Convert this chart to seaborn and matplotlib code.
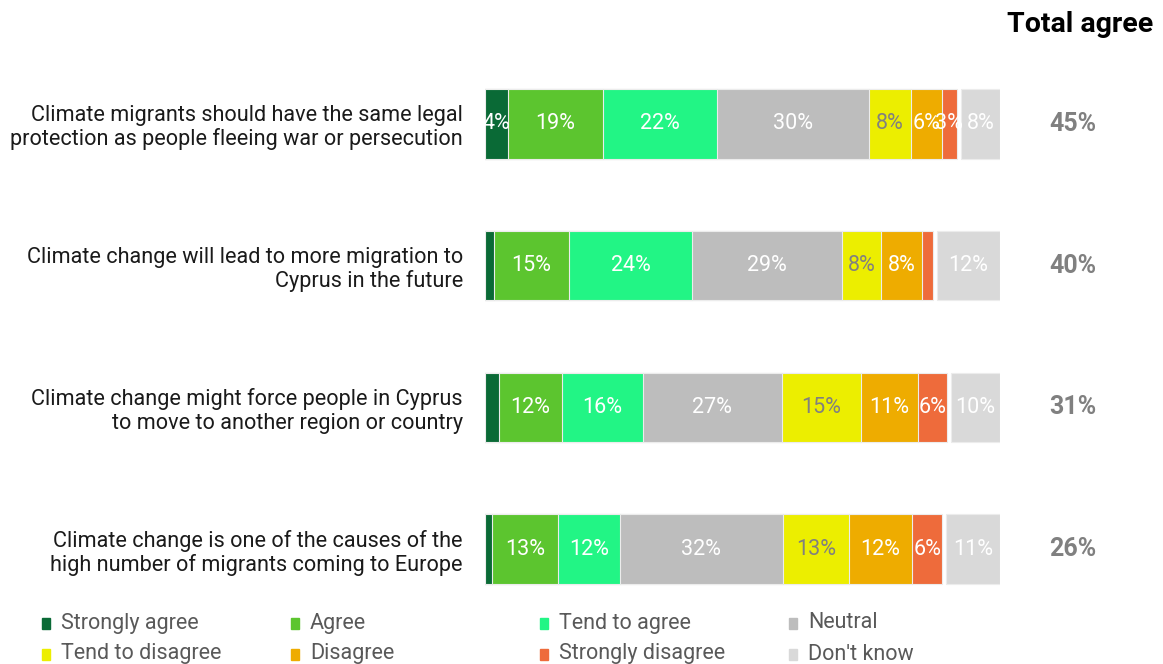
import numpy as np
import pandas as pd
import matplotlib.pyplot as plt
from matplotlib.patches import Rectangle
import seaborn as sns

# Statements (top to bottom)
statements = [
    "Climate migrants should have the same legal\nprotection as people fleeing war or persecution",
    "Climate change will lead to more migration to\nCyprus in the future",
    "Climate change might force people in Cyprus\nto move to another region or country",
    "Climate change is one of the causes of the\nhigh number of migrants coming to Europe",
]

# Answer shares (%)
strongly_agree = [4.4, 1.7, 2.7, 1.3]
agree = [18.6, 14.8, 12.3, 13.0]
tend_to_agree = [22.3, 23.9, 15.8, 12.0]
neutral = [29.8, 29.4, 27.3, 31.9]
tend_to_disagree = [8.2, 7.7, 15.4, 13.0]
disagree = [6.0, 8.0, 11.2, 12.3]
strongly_disagree = [3.0, 2.1, 5.7, 5.9]
dont_know = [7.7, 12.4, 9.6, 10.6]

total_agree = [45, 40, 31, 26]

categories = ["Strongly agree", "Agree", "Tend to agree", "Neutral",
              "Tend to disagree", "Disagree", "Strongly disagree", "Don't know"]
colors = ["#0A6A36", "#5CC52F", "#22F585", "#BDBDBD",
          "#ECEE00", "#EEAC00", "#EE6B3B", "#D9D9D9"]
label_colors = ["white", "white", "white", "white",
                "#808080", "white", "white", "white"]

main_parts = [strongly_agree, agree, tend_to_agree, neutral,
              tend_to_disagree, disagree, strongly_disagree]

sns.set_theme(style="white")
plt.rcParams['font.family'] = ['Roboto', 'DejaVu Sans']

fig = plt.figure(figsize=(11.63, 6.64), dpi=100)
ax = fig.add_axes([485 / 1163, 0.0663, 515 / 1163, 0.854])

gap = 0.7
bar_h = 0.49

# Stacked bars: draw cumulative totals from the back to the front
cum = np.cumsum(np.array(main_parts), axis=0)
for k in range(len(main_parts) - 1, -1, -1):
    sns.barplot(x=cum[k], y=statements, color=colors[k], orient="h",
                width=bar_h, errorbar=None, edgecolor="#ececec",
                linewidth=0.8, saturation=1, ax=ax)

main_total = cum[-1]
ax.barh(range(len(statements)), dont_know, left=main_total + gap,
        height=bar_h, color=colors[7], edgecolor="#ececec", linewidth=0.8)

# Segment labels
for i in range(len(statements)):
    left = 0
    for k, part in enumerate(main_parts + [dont_know]):
        v = part[i]
        if k == 7:
            left = main_total[i] + gap
        if v >= 2.9:
            ax.text(left + v / 2, i, f"{round(v)}%", ha="center", va="center",
                    color=label_colors[k], fontsize=15.5)
        left += v
    ax.text(1.142, i, f"{total_agree[i]}%", transform=ax.get_yaxis_transform(),
            ha="center", va="center", fontsize=18, fontweight="bold",
            color="#808080")

fig.text(1080 / 1163, 1 - 24 / 664, "Total agree", ha="center", va="center",
         fontsize=20.5, fontweight="bold", color="black")

ax.set_xlim(0, 100 + gap)
ax.set_ylim(3.5, -0.5)
ax.set_xlabel("")
ax.set_ylabel("")
ax.set_xticks([])
ax.tick_params(axis="y", length=0, pad=16, labelsize=15.6, labelcolor="#1a1a1a")
for lbl in ax.get_yticklabels():
    lbl.set_horizontalalignment("right")
    lbl.set_multialignment("right")
    lbl.set_linespacing(1.15)
for s in ax.spines.values():
    s.set_visible(False)

# Legend, laid out row by row
col_x = [42, 291, 540, 789]
row_y = [623, 654]
for idx, name in enumerate(categories):
    r, c = divmod(idx, 4)
    x0 = col_x[c] / 1163
    y0 = 1 - row_y[r] / 664
    fig.patches.append(Rectangle((x0, y0 - 5.5 / 664), 8 / 1163, 11 / 664,
                                 transform=fig.transFigure, color=colors[idx]))
    fig.text(x0 + 19 / 1163, y0, name, ha="left", va="center",
             fontsize=15.5, color="#595959")

fig.savefig("out.png", dpi=100)
